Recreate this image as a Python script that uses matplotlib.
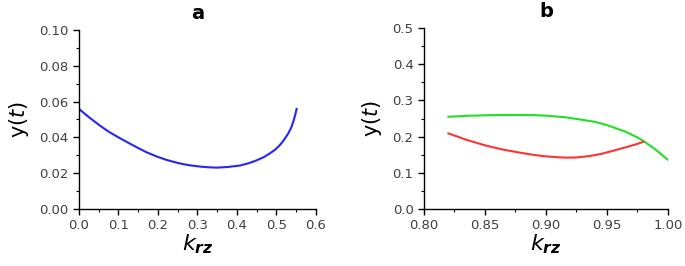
import matplotlib
matplotlib.use("Agg")
import matplotlib.pyplot as plt
from matplotlib.ticker import MultipleLocator, FormatStrFormatter

# Panel a data
a_x = [0.0, 0.014, 0.028, 0.053, 0.075, 0.10, 0.123, 0.146, 0.17, 0.197, 0.222,
       0.247, 0.265, 0.281, 0.306, 0.328, 0.349, 0.378, 0.408, 0.43, 0.45, 0.468,
       0.4835, 0.497, 0.509, 0.52, 0.53, 0.537, 0.5426, 0.547, 0.551]
a_y = [0.0559, 0.0533, 0.0508, 0.0466, 0.0432, 0.0400, 0.0372, 0.0345, 0.0318,
       0.0293, 0.0274, 0.0259, 0.0250, 0.0244, 0.0237, 0.0233, 0.0231, 0.0235,
       0.0243, 0.0256, 0.0272, 0.0290, 0.0311, 0.0332, 0.0358, 0.0389, 0.0423,
       0.0453, 0.0488, 0.0522, 0.0559]

# Panel b data
g_x = [0.82, 0.835, 0.85, 0.865, 0.875, 0.89, 0.90, 0.915, 0.925, 0.94, 0.95,
       0.965, 0.975, 0.98, 0.99, 1.00]
g_y = [0.255, 0.2575, 0.259, 0.260, 0.260, 0.2595, 0.258, 0.254, 0.249, 0.241,
       0.232, 0.214, 0.198, 0.188, 0.164, 0.136]
r_x = [0.82, 0.835, 0.85, 0.865, 0.88, 0.89, 0.90, 0.91, 0.917, 0.925, 0.935,
       0.945, 0.955, 0.966, 0.975, 0.98]
r_y = [0.209, 0.191, 0.176, 0.164, 0.155, 0.1495, 0.1455, 0.143, 0.142, 0.1425,
       0.146, 0.152, 0.161, 0.171, 0.180, 0.186]

plt.rcParams['font.family'] = ['DejaVu Sans']
plt.rcParams['mathtext.fontset'] = 'dejavusans'

fig = plt.figure(figsize=(6.85, 2.66), dpi=100)
ax1 = fig.add_axes([0.1153, 0.2143, 0.346, 0.673])
ax2 = fig.add_axes([0.619, 0.2143, 0.356, 0.680])

tick_col = '#404040'
for ax in (ax1, ax2):
    for s in ('top', 'right'):
        ax.spines[s].set_visible(False)
    for s in ('left', 'bottom'):
        ax.spines[s].set_linewidth(1.0)
    ax.tick_params(which='major', direction='out', length=4, width=1,
                   labelsize=9.5, labelcolor=tick_col)
    ax.tick_params(which='minor', direction='out', length=2.5, width=0.8)
    ax.set_ylabel(r'y($t$)', fontsize=15, labelpad=6)
    ax.set_xlabel(r'$k_{\mathbfit{rz}}$', fontsize=16, labelpad=0)

ax1.plot(a_x, a_y, color='#2424ff', lw=1.5, solid_joinstyle='round')
ax1.set_xlim(0, 0.6)
ax1.set_ylim(0, 0.10)
ax1.xaxis.set_major_locator(MultipleLocator(0.1))
ax1.xaxis.set_minor_locator(MultipleLocator(0.05))
ax1.yaxis.set_major_locator(MultipleLocator(0.02))
ax1.yaxis.set_minor_locator(MultipleLocator(0.01))
ax1.xaxis.set_major_formatter(FormatStrFormatter('%.1f'))
ax1.yaxis.set_major_formatter(FormatStrFormatter('%.2f'))
ax1.set_title('a', fontsize=14, fontweight='bold', pad=8)

ax2.plot(g_x, g_y, color='#22e022', lw=1.5, solid_joinstyle='round')
ax2.plot(r_x, r_y, color='#ff3333', lw=1.5, solid_joinstyle='round')
ax2.set_xlim(0.8, 1.0)
ax2.set_ylim(0, 0.5)
ax2.xaxis.set_major_locator(MultipleLocator(0.05))
ax2.xaxis.set_minor_locator(MultipleLocator(0.025))
ax2.yaxis.set_major_locator(MultipleLocator(0.1))
ax2.yaxis.set_minor_locator(MultipleLocator(0.05))
ax2.xaxis.set_major_formatter(FormatStrFormatter('%.2f'))
ax2.yaxis.set_major_formatter(FormatStrFormatter('%.1f'))
ax2.set_title('b', fontsize=14, fontweight='bold', pad=8)

fig.savefig('out.png', dpi=100)
